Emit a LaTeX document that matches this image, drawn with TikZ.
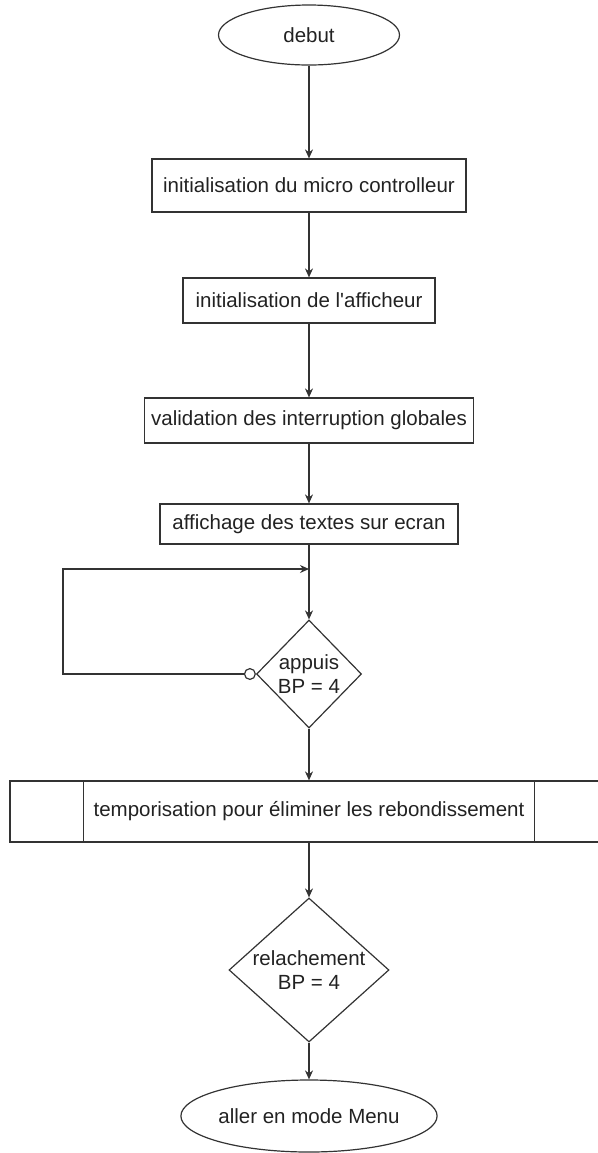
\documentclass[tikz,border=0pt]{standalone}
\usepackage{fontspec}
\setmainfont{Liberation Sans}
\usetikzlibrary{calc}
\usetikzlibrary{arrows.meta}
\usetikzlibrary{shapes.geometric}
\definecolor{LineGray}{HTML}{333333}
\definecolor{TextGray}{HTML}{222222}
\tikzset{
  every node/.style={font=\fontsize{10.25}{12}\selectfont, text=TextGray},
  terminal/.style={draw=LineGray, line width=0.6pt, ellipse, inner sep=0pt},
  action/.style={draw=LineGray, line width=0.6pt, rectangle, inner sep=0pt},
  decision/.style={draw=LineGray, line width=0.6pt, diamond, inner sep=0pt},
  flow/.style={draw=LineGray, line width=0.6pt, -{Stealth[length=4.5pt,width=4pt]}},
  retour/.style={draw=LineGray, line width=0.6pt,
    {Circle[open,length=6pt,width=6pt]}-{Stealth[length=4.5pt,width=4pt]}}
}

\begin{document}
\begin{tikzpicture}[x=0.5pt, y=-0.5pt]
  \clip (0,0) rectangle (598,1153);

  \node[terminal, minimum width=90.5pt, minimum height=30pt] (debut) at (309,35) {debut};
  \node[action, minimum width=157pt, minimum height=26.5pt] (initmicro) at (309,185.5)
    {initialisation du micro controlleur};
  \node[action, minimum width=126pt, minimum height=22.5pt] (initaff) at (309,300.5)
    {initialisation de l\textquotesingle afficheur};
  \node[action, minimum width=164.5pt, minimum height=22.5pt] (validation) at (309,420.5)
    {validation des interruption globales};
  \node[action, minimum width=149pt, minimum height=20pt] (affichage) at (309,524)
    {affichage des textes sur ecran};
  \node[decision, minimum width=52.5pt, minimum height=54pt,
    label={[align=center]center:appuis\\BP = 4}] (appuis) at (309,674) {};
  \node[action, minimum width=299pt, minimum height=30.5pt] (tempo) at (309,811.5)
    {temporisation pour éliminer les rebondissement};
  \node[decision, minimum width=80pt, minimum height=72pt,
    label={[align=center]center:relachement\\BP = 4}] (relache) at (309,970) {};
  \node[terminal, minimum width=102pt, minimum height=36pt] (menu) at (309,1116)
    {aller en mode Menu};

  % sub-process side bars
  \draw[LineGray, line width=0.6pt] ($(tempo.north west)+(74,0)$) -- ($(tempo.south west)+(74,0)$);
  \draw[LineGray, line width=0.6pt] ($(tempo.north east)+(-74,0)$) -- ($(tempo.south east)+(-74,0)$);

  \coordinate (loopin) at (309,569);
  \coordinate (loopcorner) at (63,569);

  \draw[flow] (debut.south) -- (initmicro.north);
  \draw[flow] (initmicro.south) -- (initaff.north);
  \draw[flow] (initaff.south) -- (validation.north);
  \draw[flow] (validation.south) -- (affichage.north);
  \draw[flow] (affichage.south) -- (appuis.north);
  \draw[retour] (appuis.west) -| (loopcorner) -- (loopin);
  \draw[flow] (appuis.south) -- (tempo.north);
  \draw[flow] (tempo.south) -- (relache.north);
  \draw[flow] (relache.south) -- (menu.north);
\end{tikzpicture}
\end{document}
